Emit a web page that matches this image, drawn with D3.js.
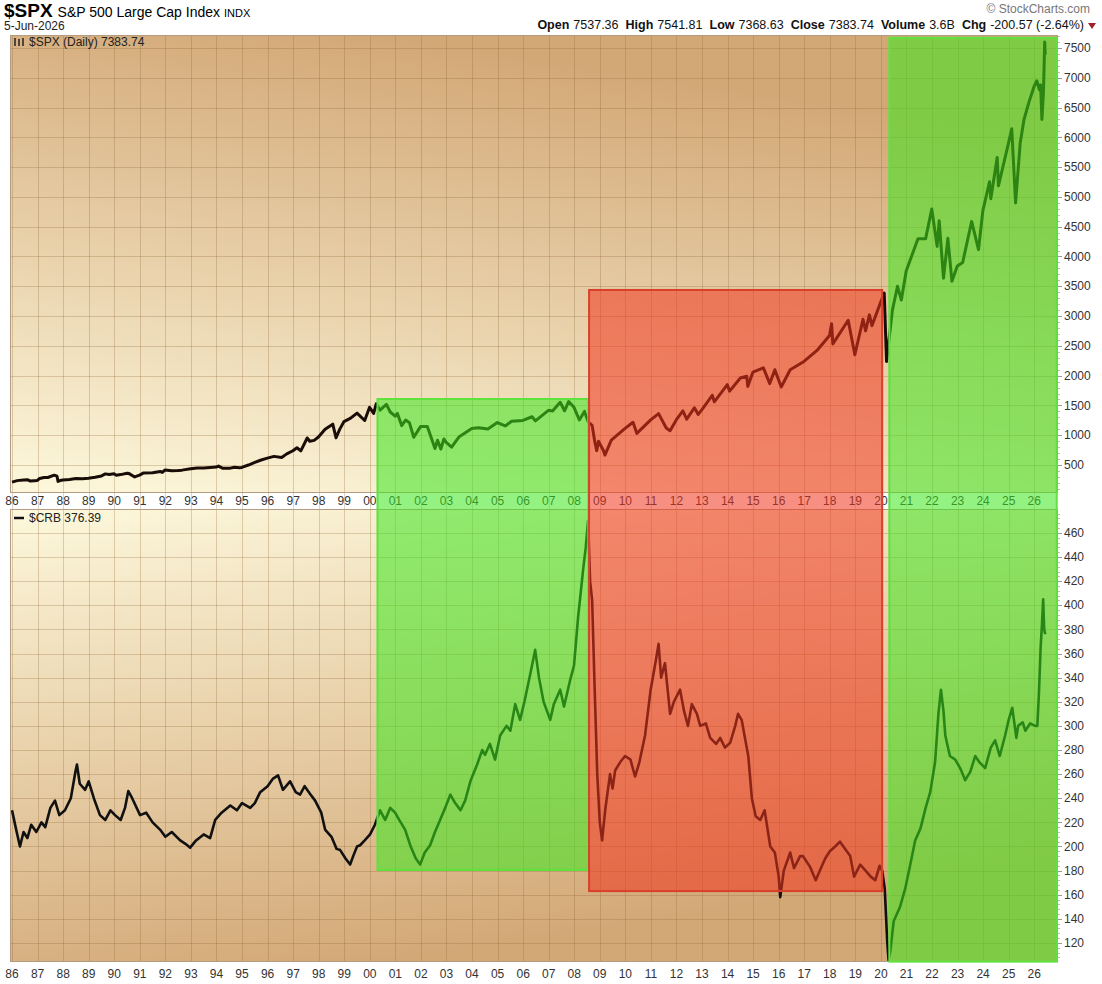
<!DOCTYPE html>
<html>
<head>
<meta charset="utf-8">
<script src="https://cdn.jsdelivr.net/npm/d3@7"></script>
<style>
  body { margin: 0; background: #fff; }
  text { font-family: "Liberation Sans", Arial, sans-serif; }
</style>
</head>
<body>
<div id="chart"></div>
<script>
// S&P 500 (decimal year, close)
var spxYears = [
  1986.00,1986.20,1986.45,1986.62,1986.72,1986.99,1987.08,1987.25,1987.40,1987.65,1987.76,1987.80,1987.88,1987.99,
  1988.25,1988.50,1988.75,1988.99,1989.25,1989.50,1989.65,1989.80,1989.99,1990.08,1990.25,1990.50,1990.58,1990.80,1990.99,
  1991.15,1991.50,1991.80,1991.88,1991.99,1992.25,1992.50,1992.65,1992.99,1993.25,1993.50,1993.75,1993.99,
  1994.08,1994.25,1994.50,1994.70,1994.90,1994.99,1995.25,1995.50,1995.75,1995.99,1996.25,1996.55,1996.75,1996.99,
  1997.15,1997.30,1997.55,1997.65,1997.82,1997.99,1998.25,1998.55,1998.68,1998.82,1998.99,1999.25,1999.50,1999.80,1999.99,
  2000.15,2000.25,2000.40,2000.65,2000.80,2000.99,2001.08,2001.25,2001.40,2001.55,2001.72,2001.99,
  2002.25,2002.55,2002.65,2002.78,2002.90,2002.99,2003.20,2003.50,2003.99,2004.25,2004.62,2004.99,2005.30,2005.55,2005.99,
  2006.35,2006.48,2006.99,2007.15,2007.45,2007.62,2007.78,2007.99,2008.20,2008.40,2008.55,2008.70,2008.80,2008.88,2008.95,
  2009.15,2009.20,2009.45,2009.99,2010.30,2010.45,2010.99,2011.30,2011.60,2011.75,2011.99,2012.25,2012.40,2012.70,2012.85,2012.99,
  2013.40,2013.48,2013.99,2014.08,2014.50,2014.75,2014.79,2014.99,2015.40,2015.65,2015.85,2016.10,2016.45,2016.99,
  2017.50,2017.99,2018.07,2018.12,2018.72,2018.98,2019.30,2019.40,2019.55,2019.65,2019.99,2020.13,2020.22,2020.45,2020.65,2020.80,2020.99,
  2021.45,2021.75,2021.99,2022.20,2022.28,2022.45,2022.62,2022.78,2022.99,2023.20,2023.55,2023.82,2023.99,
  2024.25,2024.30,2024.55,2024.60,2024.99,2025.12,2025.27,2025.45,2025.60,2025.80,2025.99,2026.10,2026.20,2026.25,2026.30,2026.36,2026.41,2026.43];
var spxValues = [
  212,238,250,252,231,242,274,291,290,330,312,225,240,247,
  258,273,271,277,294,317,351,340,353,329,339,361,356,300,330,
  367,371,392,375,417,403,408,414,436,451,450,458,466,
  482,445,444,463,454,459,500,544,584,615,645,626,687,740,
  790,737,954,899,914,970,1101,1186,957,1098,1229,1286,1372,1247,1469,
  1366,1527,1420,1517,1390,1320,1366,1160,1255,1211,965,1148,
  1147,776,916,768,936,880,800,975,1112,1126,1104,1212,1156,1234,1248,
  1310,1240,1418,1406,1553,1410,1565,1468,1256,1400,1220,1166,900,741,900,
  735,666,919,1115,1217,1030,1257,1363,1120,1075,1257,1408,1270,1460,1350,1426,
  1670,1560,1848,1740,1960,1990,1820,2058,2130,1867,2100,1810,2099,2239,
  2423,2674,2872,2533,2930,2351,2946,2752,3020,2840,3231,3386,2237,3100,3500,3270,3756,
  4297,4300,4796,4170,4600,3636,4305,3583,3840,3900,4588,4117,4770,
  5254,4970,5660,5186,5900,6144,4900,5900,6300,6600,6850,6950,6800,6880,6300,6750,7600,7384];

// CRB commodity index (decimal year, close)
var crbYears = [
  1986.00,1986.15,1986.31,1986.45,1986.60,1986.75,1986.95,1987.15,1987.30,1987.50,1987.68,1987.85,
  1988.07,1988.30,1988.48,1988.54,1988.65,1988.86,1989.00,1989.20,1989.44,1989.65,1989.85,
  1990.03,1990.25,1990.42,1990.55,1990.70,1991.01,1991.25,1991.50,1991.79,1992.00,1992.25,1992.58,1992.80,1992.97,
  1993.20,1993.50,1993.75,1993.95,1994.20,1994.54,1994.80,1995.00,1995.32,1995.50,1995.71,
  1996.00,1996.20,1996.41,1996.60,1996.88,1997.10,1997.27,1997.45,1997.65,1997.86,
  1998.10,1998.25,1998.50,1998.70,1998.84,1999.05,1999.23,1999.35,1999.50,1999.62,1999.80,
  2000.01,2000.20,2000.40,2000.60,2000.80,2000.99,2001.15,2001.38,2001.60,2001.80,2001.97,
  2002.15,2002.36,2002.55,2002.75,2002.95,2003.15,2003.34,2003.55,2003.73,2003.95,
  2004.20,2004.40,2004.51,2004.70,2004.90,2005.10,2005.35,2005.50,2005.69,2005.88,
  2006.05,2006.30,2006.47,2006.62,2006.80,2007.06,2007.20,2007.45,2007.60,2007.84,2007.99,
  2008.15,2008.35,2008.45,2008.54,2008.62,2008.70,2008.80,2008.90,2009.00,2009.09,2009.21,2009.40,2009.50,2009.60,2009.80,2009.99,
  2010.20,2010.38,2010.55,2010.77,2010.99,2011.20,2011.30,2011.40,2011.55,2011.75,2011.90,
  2012.14,2012.30,2012.45,2012.60,2012.80,2012.93,2013.15,2013.32,2013.55,2013.71,2013.90,
  2014.10,2014.30,2014.41,2014.55,2014.81,2014.95,2015.10,2015.28,2015.45,2015.67,2015.85,
  2016.00,2016.06,2016.20,2016.45,2016.60,2016.84,2016.95,2017.23,2017.45,2017.65,2017.82,
  2018.00,2018.21,2018.40,2018.60,2018.80,2018.95,2019.19,2019.40,2019.60,2019.78,2019.95,
  2020.05,2020.15,2020.25,2020.30,2020.36,2020.50,2020.75,2020.95,2021.15,2021.34,2021.55,2021.75,2021.93,
  2022.12,2022.25,2022.35,2022.45,2022.52,2022.70,2022.91,2023.10,2023.30,2023.50,2023.69,2023.85,
  2024.08,2024.30,2024.47,2024.65,2024.86,2025.00,2025.14,2025.30,2025.37,2025.55,2025.65,2025.84,
  2026.04,2026.12,2026.18,2026.25,2026.30,2026.35,2026.39,2026.43];
var crbValues = [
  230,215,200,212,207,218,212,220,216,232,238,226,
  230,240,262,268,252,247,254,240,226,222,230,
  226,222,232,246,240,226,228,220,214,208,212,205,202,199,
  205,210,207,222,228,234,230,236,232,236,245,
  250,256,259,247,254,245,243,250,244,238,
  228,214,208,198,197,190,185,192,200,201,205,
  210,218,230,222,232,228,222,214,200,190,185,
  195,201,212,222,232,243,236,230,238,255,
  268,280,276,285,272,292,300,296,318,305,
  320,345,363,340,320,305,318,330,316,338,350,
  390,430,448,470,420,404,330,260,220,205,230,260,248,263,270,275,
  272,258,270,292,330,355,368,340,352,310,320,
  330,312,300,318,310,300,302,290,285,290,282,
  286,300,310,305,275,240,225,222,230,200,195,
  175,158,180,195,182,192,192,183,172,182,190,
  196,200,204,198,192,175,185,180,175,172,184,
  180,165,120,106,112,138,150,165,185,205,215,232,245,
  270,310,330,312,292,275,272,265,255,262,275,270,
  265,282,288,275,292,305,315,290,300,303,296,302,
  300,300,325,365,383,405,380,376];

// axis ticks
var yearTicks = d3.range(1986, 2027);
var spxTicks = d3.range(500, 7501, 500);
var crbTicks = d3.range(120, 461, 20);

// highlighted periods: [start year, end year, top (SPX units), bottom (CRB units)]
var boxStart = [2000.3, 2008.58, 2020.33];
var boxEnd = [2008.55, 2020.05, 2026.88];
var boxTop = [1608, 3438, 7670];
var boxBottom = [180.5, 163, 104.5];
var boxKind = ["up", "down", "up"];

var width = 1102, height = 984;
var L = 10, R = 1058;
var p1 = {top: 35, bottom: 492}, p2 = {top: 510, bottom: 962};

var svg = d3.select("#chart").append("svg")
    .attr("width", width)
    .attr("height", height);

var x = d3.scaleLinear().domain([1985.92, 2026.93]).range([L, R]);
var y1 = d3.scaleLinear().domain([47, 7718]).range([p1.bottom, p1.top]);
var y2 = d3.scaleLinear().domain([104.2, 479]).range([p2.bottom, p2.top]);

// background gradients
var defs = svg.append("defs");
var g1 = defs.append("linearGradient").attr("id", "bg1")
    .attr("x1", "0").attr("y1", "1").attr("x2", "0.35").attr("y2", "0");
g1.append("stop").attr("offset", "0%").attr("stop-color", "#fdf8dc");
g1.append("stop").attr("offset", "100%").attr("stop-color", "#d3a877");
var g2 = defs.append("linearGradient").attr("id", "bg2")
    .attr("x1", "0").attr("y1", "0").attr("x2", "0.35").attr("y2", "1");
g2.append("stop").attr("offset", "0%").attr("stop-color", "#fdf8dc");
g2.append("stop").attr("offset", "100%").attr("stop-color", "#d3a877");

svg.append("rect").attr("x", L).attr("y", p1.top).attr("width", R - L).attr("height", p1.bottom - p1.top)
    .attr("fill", "url(#bg1)");
svg.append("rect").attr("x", L).attr("y", p2.top).attr("width", R - L).attr("height", p2.bottom - p2.top)
    .attr("fill", "url(#bg2)");

// grid
var grid = svg.append("g").attr("stroke", "rgba(140,100,50,0.28)").attr("stroke-width", 1);
grid.selectAll(".vx").data(yearTicks).enter().append("line")
    .attr("x1", d => Math.round(x(d)) + 0.5).attr("x2", d => Math.round(x(d)) + 0.5)
    .attr("y1", p1.top).attr("y2", p2.bottom);
grid.selectAll(".h1").data(spxTicks).enter().append("line")
    .attr("x1", L).attr("x2", R)
    .attr("y1", d => Math.round(y1(d)) + 0.5).attr("y2", d => Math.round(y1(d)) + 0.5);
grid.selectAll(".h2").data(crbTicks).enter().append("line")
    .attr("x1", L).attr("x2", R)
    .attr("y1", d => Math.round(y2(d)) + 0.5).attr("y2", d => Math.round(y2(d)) + 0.5);

// price lines
var spx = spxYears.map((t, i) => ({t: t, v: spxValues[i]}));
var crb = crbYears.map((t, i) => ({t: t, v: crbValues[i]}));

svg.append("path").datum(spx)
    .attr("fill", "none").attr("stroke", "#1a0d08").attr("stroke-width", 3)
    .attr("stroke-linejoin", "round")
    .attr("d", d3.line().x(d => x(d.t)).y(d => y1(d.v)));
svg.append("path").datum(crb)
    .attr("fill", "none").attr("stroke", "#111").attr("stroke-width", 2.6)
    .attr("stroke-linejoin", "round")
    .attr("d", d3.line().x(d => x(d.t)).y(d => y2(d.v)));

// frames
svg.append("rect").attr("x", L + 0.5).attr("y", p1.top + 0.5).attr("width", R - L - 1).attr("height", p1.bottom - p1.top)
    .attr("fill", "none").attr("stroke", "#b39c82");
svg.append("rect").attr("x", L + 0.5).attr("y", p2.top - 0.5).attr("width", R - L - 1).attr("height", p2.bottom - p2.top)
    .attr("fill", "none").attr("stroke", "#b39c82");

// year labels (middle band and bottom)
function yearLabel(d) { return String(d % 100).padStart(2, "0"); }
[501, 974].forEach(function(yy) {
  svg.append("g").selectAll("text").data(yearTicks).enter().append("text")
      .attr("x", d => x(d)).attr("y", yy)
      .attr("dy", "0.35em").attr("text-anchor", "middle")
      .attr("font-size", 12).attr("fill", "#333")
      .text(yearLabel);
});

// right axes
function rightAxis(scale, ticks, minorStep) {
  var g = svg.append("g");
  var minor = d3.range(Math.ceil(scale.domain()[0] / minorStep) * minorStep, scale.domain()[1], minorStep);
  g.selectAll(".mn").data(minor).enter().append("line")
      .attr("x1", R).attr("x2", R + 2)
      .attr("y1", d => Math.round(scale(d)) + 0.5).attr("y2", d => Math.round(scale(d)) + 0.5)
      .attr("stroke", "#c9b8a4");
  g.selectAll(".mj").data(ticks).enter().append("line")
      .attr("x1", R).attr("x2", R + 4)
      .attr("y1", d => Math.round(scale(d)) + 0.5).attr("y2", d => Math.round(scale(d)) + 0.5)
      .attr("stroke", "#999");
  g.selectAll("text").data(ticks).enter().append("text")
      .attr("x", R + 6).attr("y", d => scale(d)).attr("dy", "0.35em")
      .attr("font-size", 12).attr("fill", "#333")
      .text(d => d);
}
rightAxis(y1, spxTicks, 100);
rightAxis(y2, crbTicks, 4);

// highlight boxes drawn over everything
var boxColor = {up: {fill: "rgb(60,232,30)", stroke: "#5fe23e"}, down: {fill: "rgb(240,52,30)", stroke: "#d8402c"}};
svg.append("g").selectAll("rect").data(boxStart).enter().append("rect")
    .attr("x", (d, i) => x(boxStart[i]))
    .attr("y", (d, i) => y1(boxTop[i]))
    .attr("width", (d, i) => x(boxEnd[i]) - x(boxStart[i]))
    .attr("height", (d, i) => y2(boxBottom[i]) - y1(boxTop[i]))
    .attr("fill", (d, i) => boxColor[boxKind[i]].fill)
    .attr("fill-opacity", 0.55)
    .attr("stroke", (d, i) => boxColor[boxKind[i]].stroke)
    .attr("stroke-width", 2);

// legends
svg.append("text").attr("x", 29).attr("y", 46)
    .attr("font-family", "DejaVu Sans Mono, monospace").attr("font-size", 12).attr("fill", "#222")
    .text("$SPX (Daily) 7383.74");
var icon = svg.append("g").attr("stroke", "#222").attr("stroke-width", 1.5);
[15, 19, 23].forEach(function(ix, k) {
  icon.append("line").attr("x1", ix).attr("x2", ix).attr("y1", 38 + k % 2).attr("y2", 46);
});
svg.append("text").attr("x", 29).attr("y", 522)
    .attr("font-family", "DejaVu Sans Mono, monospace").attr("font-size", 12).attr("fill", "#222")
    .text("$CRB 376.39");
svg.append("line").attr("x1", 14).attr("x2", 24).attr("y1", 518).attr("y2", 518)
    .attr("stroke", "#111").attr("stroke-width", 2.5);

// header
var title = svg.append("text").attr("x", 4).attr("y", 17);
title.append("tspan").attr("font-size", 19).attr("font-weight", "bold").text("$SPX");
title.append("tspan").attr("font-size", 14).attr("dx", 5).text("S&P 500 Large Cap Index");
title.append("tspan").attr("font-size", 11).attr("dx", 4).text("INDX");
svg.append("text").attr("x", 4).attr("y", 30).attr("font-size", 12).attr("fill", "#222").text("5-Jun-2026");

svg.append("text").attr("x", 1090).attr("y", 13).attr("text-anchor", "end")
    .attr("font-size", 12).attr("fill", "#777").text("\u00A9 StockCharts.com");

var quote = [["Open", "7537.36"], ["High", "7541.81"], ["Low", "7368.63"], ["Close", "7383.74"],
             ["Volume", "3.6B"], ["Chg", "-200.57 (-2.64%)"]];
var qt = svg.append("text").attr("x", 1084).attr("y", 29).attr("text-anchor", "end")
    .attr("font-size", 12.5).attr("fill", "#111");
quote.forEach(function(q, i) {
  qt.append("tspan").attr("font-weight", "bold").attr("dx", i ? 7 : 0).text(q[0]);
  qt.append("tspan").attr("dx", 4).text(q[1]);
});
svg.append("path").attr("d", "M1088,23 L1096,23 L1092,29 Z").attr("fill", "#a0202a");
</script>
</body>
</html>
